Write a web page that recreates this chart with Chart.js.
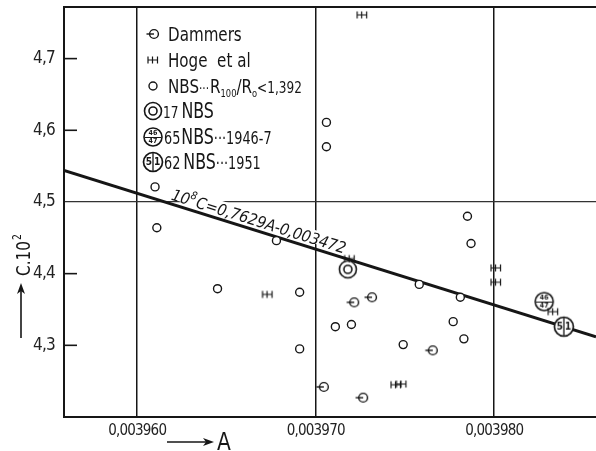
<!DOCTYPE html>
<html><head><meta charset="utf-8">
<script src="https://cdn.jsdelivr.net/npm/chart.js@4/dist/chart.umd.min.js"></script>
<style>html,body{margin:0;padding:0;background:#fff}#wrap{width:596px;height:451px}</style>
</head><body><div id="wrap"><canvas id="c" width="596" height="451"></canvas></div>
<script>
// ---------- data ----------
const xTicks = [0.003960, 0.003970, 0.003980];
const yTicks = [4.3, 4.4, 4.5, 4.6, 4.7];
const xRange = [0.0039559, 0.0039857];
const yRange = [4.2, 4.772];

const nbsPoints = [
  [0.0039610, 4.521], [0.0039611, 4.464], [0.0039645, 4.379], [0.0039678, 4.446],
  [0.0039691, 4.374], [0.0039691, 4.295], [0.0039706, 4.611], [0.0039706, 4.577],
  [0.0039711, 4.326], [0.0039720, 4.329], [0.0039758, 4.385], [0.0039749, 4.301],
  [0.0039781, 4.367], [0.0039777, 4.333], [0.0039783, 4.309], [0.0039785, 4.480],
  [0.0039787, 4.442]
];
const dammersPoints = [
  [0.0039721, 4.360], [0.0039731, 4.367], [0.0039765, 4.293], [0.0039704, 4.242], [0.0039726, 4.227]
];
const hogePoints = [
  [0.0039726, 4.761], [0.0039673, 4.371], [0.0039719, 4.421], [0.0039745, 4.245],
  [0.0039748, 4.246], [0.0039801, 4.408], [0.0039801, 4.388], [0.0039833, 4.347]
];
const nbs17Points = [[0.0039718, 4.406]];
const nbs65Points = [[0.0039828, 4.361]];
const nbs62Points = [[0.0039839, 4.326]];
const fitLine = [[0.0039559, 4.544], [0.0039857, 4.312]];

const fitLabel = ['10', '8', 'C=0,7629A-0,003472'];
const legendNames = ['Dammers', 'Hoge  et al', 'NBS', '17 NBS', '65 NBS', '62 NBS'];

// ---------- styling ----------
const FONT = "'DejaVu Sans Condensed','Liberation Sans Narrow','DejaVu Sans',sans-serif";
const INK = '#161616';
const LABEL_AT = 0.0039618;
const SQUEEZE = 0.84;

function makeSymbol(size, draw) {
  const c = document.createElement('canvas');
  c.width = size; c.height = size;
  const g = c.getContext('2d');
  g.translate(size / 2, size / 2);
  g.strokeStyle = INK; g.fillStyle = INK; g.lineWidth = 1.4;
  draw(g);
  return c;
}
function circ(g, x, y, r, fill) {
  g.beginPath(); g.arc(x, y, r, 0, Math.PI * 2);
  if (fill) { g.save(); g.fillStyle = '#fff'; g.fill(); g.restore(); }
  g.stroke();
}
const symDammers = makeSymbol(18, g => {
  circ(g, 1, 0, 4.4, true);
  g.beginPath(); g.moveTo(-6.5, 0); g.lineTo(1, 0); g.stroke();
});
const symHoge = makeSymbol(16, g => {
  g.lineWidth = 1.2;
  g.beginPath(); g.moveTo(-5, 0); g.lineTo(5, 0);
  [-5, -0.5, 4.5].forEach(x => { g.moveTo(x, -3.5); g.lineTo(x, 3.5); });
  g.stroke();
});
const sym17 = makeSymbol(22, g => {
  g.lineWidth = 1.6; circ(g, 0, 0, 8.5, true); circ(g, 0, 0, 4, false);
});
const sym65 = makeSymbol(24, g => {
  g.lineWidth = 1.6; circ(g, 0, 0, 9, true);
  g.lineWidth = 1; g.beginPath(); g.moveTo(-8, 0.5); g.lineTo(8, 0.5); g.stroke();
  g.font = 'bold 7px ' + FONT; g.textAlign = 'center'; g.textBaseline = 'middle';
  g.fillText('46', 0, -3.5); g.fillText('47', 0, 4.5);
});
const sym62 = makeSymbol(24, g => {
  g.lineWidth = 1.7; circ(g, 0, 0, 9.5, true);
  g.lineWidth = 1.3; g.beginPath(); g.moveTo(0, -9.5); g.lineTo(0, 9.5); g.stroke();
  g.font = 'bold 10px ' + FONT; g.textAlign = 'center'; g.textBaseline = 'middle';
  g.fillText('5', -4.2, 0.5); g.fillText('1', 4.2, 0.5);
});

const toXY = arr => arr.map(p => ({ x: p[0], y: p[1] }));

function labelGeom(chart) {
  const xs = chart.scales.x, ys = chart.scales.y;
  const x1 = xs.getPixelForValue(fitLine[0][0]), y1 = ys.getPixelForValue(fitLine[0][1]);
  const x2 = xs.getPixelForValue(fitLine[1][0]), y2 = ys.getPixelForValue(fitLine[1][1]);
  const ang = Math.atan2(y2 - y1, x2 - x1);
  const sx = xs.getPixelForValue(LABEL_AT);
  const t = (sx - x1) / (x2 - x1);
  const ly = y1 + t * (y2 - y1);
  const off = 4;
  return { x: sx + off * Math.sin(ang), y: ly - off * Math.cos(ang), ang: ang, len: 185 };
}

// draw horizontally squeezed text, returns advance
function sText(ctx, txt, x, y, size, sq, style) {
  ctx.font = (style ? style + ' ' : '') + size + 'px ' + FONT;
  ctx.save(); ctx.translate(x, y); ctx.scale(sq, 1); ctx.fillText(txt, 0, 0); ctx.restore();
  return ctx.measureText(txt).width * sq;
}

const decor = {
  id: 'decor',
  beforeDraw(chart) {
    try { chart.ctx.letterSpacing = '-0.8px'; } catch (e) {}
  },
  beforeDatasetsDraw(chart) {
    const { ctx, chartArea: a } = chart;
    ctx.save();
    ctx.strokeStyle = INK; ctx.lineWidth = 2;
    ctx.beginPath(); ctx.moveTo(a.left, a.top); ctx.lineTo(a.right, a.top); ctx.stroke();
    const ys = chart.scales.y;
    ctx.lineWidth = 1.6;
    yTicks.forEach(v => {
      if (v === 4.5) return;
      const p = ys.getPixelForValue(v);
      ctx.beginPath(); ctx.moveTo(a.left, p); ctx.lineTo(a.left + 13, p); ctx.stroke();
    });
    const L = labelGeom(chart);
    ctx.translate(L.x, L.y); ctx.rotate(L.ang);
    ctx.fillStyle = '#fff'; ctx.fillRect(-2, -14, L.len, 13);
    ctx.restore();
  },
  afterDatasetsDraw(chart) {
    const { ctx, chartArea: a } = chart;
    ctx.save();
    try { ctx.letterSpacing = '0px'; } catch (e) {}
    ctx.fillStyle = INK; ctx.strokeStyle = INK;
    ctx.textBaseline = 'alphabetic'; ctx.textAlign = 'left';
    // fit label, squeezed to its length along the line
    const L = labelGeom(chart);
    ctx.save();
    ctx.translate(L.x, L.y); ctx.rotate(L.ang);
    ctx.font = 'italic 16px ' + FONT;
    const w0 = ctx.measureText(fitLabel[0]).width;
    const w2 = ctx.measureText(fitLabel[2]).width;
    ctx.font = 'italic 11px ' + FONT;
    const w1 = ctx.measureText(fitLabel[1]).width + 1;
    const sq = Math.min(1, L.len / (w0 + w1 + w2));
    let cx = 0;
    cx += sText(ctx, fitLabel[0], cx, 0, 16, sq, 'italic');
    cx += sText(ctx, fitLabel[1], cx, -7, 11, sq, 'italic') + sq;
    sText(ctx, fitLabel[2], cx, 0, 16, sq, 'italic');
    ctx.restore();

    // legend
    const symX = a.left + 89;
    const textX = a.left + 104;
    const rows = [34, 60, 86, 111, 137, 162];
    ctx.drawImage(symDammers, symX - 9, rows[0] - 9);
    ctx.drawImage(symHoge, symX - 8, rows[1] - 8);
    ctx.save(); ctx.lineWidth = 1.4; ctx.beginPath(); ctx.arc(symX, rows[2], 4, 0, Math.PI * 2); ctx.stroke(); ctx.restore();
    ctx.drawImage(sym17, symX - 11, rows[3] - 11);
    ctx.drawImage(sym65, symX - 12, rows[4] - 12);
    ctx.drawImage(sym62, symX - 12, rows[5] - 12);

    const seg = (parts, x, y) => {
      parts.forEach(p => { x += sText(ctx, p[0], x, y + (p[2] || 0), p[1], SQUEEZE) + (p[3] || 0); });
    };
    seg([[legendNames[0], 20]], textX, rows[0] + 7);
    seg([[legendNames[1], 20]], textX, rows[1] + 7);
    seg([['NBS', 20], ['···', 14, 0, 1], ['R', 20], ['100', 11, 4], ['/R', 20], ['o', 11, 4], ['<1,392', 16]], textX, rows[2] + 7);
    seg([['17', 16, 0, 3], ['NBS', 21]], textX - 5, rows[3] + 7);
    seg([['65', 17, 0, 1], ['NBS', 21], ['···1946-7', 17]], textX - 4, rows[4] + 7);
    seg([['62', 17, 0, 3], ['NBS', 21], ['···1951', 17]], textX - 4, rows[5] + 7);
    ctx.restore();
  },
  afterDraw(chart) {
    const { ctx, chartArea: a } = chart;
    ctx.save();
    try { ctx.letterSpacing = '0px'; } catch (e) {}
    ctx.fillStyle = INK; ctx.strokeStyle = INK; ctx.lineWidth = 1.6;
    // x title arrow + A
    const ay = a.bottom + 25;
    ctx.beginPath(); ctx.moveTo(167, ay); ctx.lineTo(208, ay); ctx.stroke();
    ctx.beginPath(); ctx.moveTo(214, ay); ctx.lineTo(203, ay - 4); ctx.lineTo(206, ay); ctx.lineTo(203, ay + 4); ctx.closePath(); ctx.fill();
    sText(ctx, 'A', 217, a.bottom + 33, 25, 0.9);
    // y title
    ctx.beginPath(); ctx.moveTo(21, 338); ctx.lineTo(21, 290); ctx.stroke();
    ctx.beginPath(); ctx.moveTo(21, 283); ctx.lineTo(17, 294); ctx.lineTo(21, 291); ctx.lineTo(25, 294); ctx.closePath(); ctx.fill();
    ctx.translate(30, 276); ctx.rotate(-Math.PI / 2);
    const w = sText(ctx, 'C.10', 0, 0, 20, 0.85);
    sText(ctx, '2', w + 1, -9, 12, 0.85);
    ctx.restore();
  }
};

const fmt = v => Number(v).toFixed(6).replace('.', ',');
const fmtY = v => Number(v).toFixed(1).replace('.', ',');

new Chart(document.getElementById('c'), {
  type: 'scatter',
  data: {
    datasets: [
      { type: 'line', label: 'fit', data: toXY(fitLine), borderColor: INK, borderWidth: 3, pointRadius: 0, fill: false, order: 10 },
      { label: 'NBS', data: toXY(nbsPoints), pointStyle: 'circle', pointRadius: 4, borderWidth: 1.4, borderColor: INK, backgroundColor: '#fff', order: 1 },
      { label: 'Dammers', data: toXY(dammersPoints), pointStyle: symDammers, pointRadius: 5, order: 1 },
      { label: 'Hoge et al', data: toXY(hogePoints), pointStyle: symHoge, pointRadius: 5, order: 1 },
      { label: '17 NBS', data: toXY(nbs17Points), pointStyle: sym17, pointRadius: 8, order: 1 },
      { label: '65 NBS', data: toXY(nbs65Points), pointStyle: sym65, pointRadius: 8, order: 1 },
      { label: '62 NBS', data: toXY(nbs62Points), pointStyle: sym62, pointRadius: 8, order: 1 }
    ]
  },
  options: {
    responsive: false,
    animation: false,
    devicePixelRatio: 1,
    layout: { autoPadding: false, padding: { top: 7, right: 0, left: 0, bottom: 0 } },
    plugins: { legend: { display: false }, tooltip: { enabled: false } },
    scales: {
      x: {
        type: 'linear', min: xRange[0], max: xRange[1],
        afterBuildTicks: s => { s.ticks = xTicks.map(v => ({ value: v })); },
        afterFit: s => { s.height = 34; s.paddingLeft = 0; s.paddingRight = 0; },
        ticks: { callback: v => fmt(v), color: '#222', font: { family: FONT, size: 15 }, padding: 5, maxRotation: 0, autoSkip: false },
        grid: { color: INK, lineWidth: 1.5, drawTicks: false },
        border: { display: true, color: INK, width: 2 }
      },
      y: {
        type: 'linear', min: yRange[0], max: yRange[1],
        afterBuildTicks: s => { s.ticks = yTicks.map(v => ({ value: v })); },
        afterFit: s => { s.width = 64; s.paddingTop = 0; s.paddingBottom = 0; },
        ticks: { callback: v => fmtY(v), color: '#222', font: { family: FONT, size: 17 }, padding: 9 },
        grid: { color: c => (c.tick && c.tick.value === 4.5) ? '#333' : 'rgba(0,0,0,0)', lineWidth: 1.3, drawTicks: false },
        border: { display: true, color: INK, width: 2 }
      }
    }
  },
  plugins: [decor]
});
</script>
</body></html>
